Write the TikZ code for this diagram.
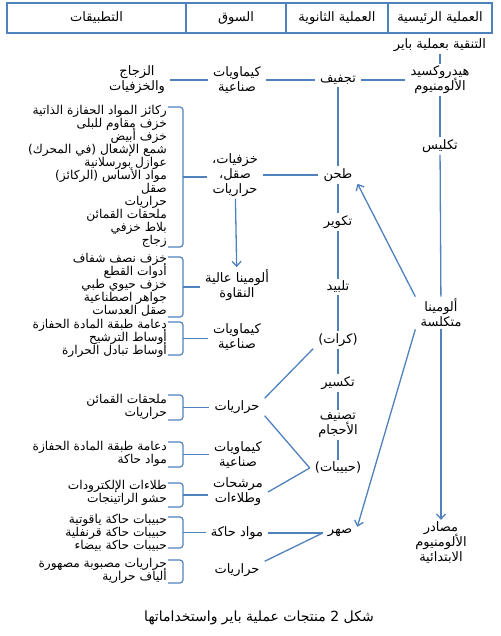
\documentclass[tikz,border=0pt]{standalone}
\usepackage{fontspec}
\usepackage{tikz}
\usetikzlibrary{arrows.meta,calc}
\TeXXeTstate=1
\newfontfamily\arabicfont[Script=Arabic]{DejaVu Sans}
\definecolor{lineblue}{RGB}{79,129,189}
\def\artxt#1{\beginR #1\endR}
\def\tightlines{\lineskiplimit=-20pt\relax}
\def\appbracket(#1)(#2:#3){\draw[brk] (168,#2) -- (183,#2) -- (183,#3) -- (168,#3); \coordinate (#1) at (183,{(#2+#3)/2});}

\begin{document}
\begin{tikzpicture}[x=1pt, y=-1pt,
	conn/.style={draw=lineblue, line width=1.3pt},
	arr/.style={conn, -{Straight Barb[length=5pt,width=9pt]}},
	brk/.style={draw=lineblue, line width=1.2pt, rounded corners=3pt},
	lbl/.style={font={\arabicfont\fontsize{13}{15}\selectfont\tightlines}, align=center, inner xsep=5pt, inner ysep=2pt},
	app/.style={font={\arabicfont\fontsize{12.2}{13}\selectfont\tightlines}, align=right, anchor=east, inner sep=0pt},
	hdr/.style={draw=lineblue, line width=1.2pt, minimum height=30pt, inner sep=0pt, font={\arabicfont\fontsize{13}{15}\selectfont}}]
		%%%%% START %%%%%
		\useasboundingbox (0,0) rectangle (500,636);
		
		\node[hdr, minimum width=179pt] (happ) at (96.5,18) {\artxt{التطبيقات}};
		\node[hdr, minimum width=100pt] (hmarket) at (236,18) {\artxt{السوق}};
		\node[hdr, minimum width=102pt] (hsec) at (337,18) {\artxt{العملية الثانوية}};
		\node[hdr, minimum width=104pt] (hmain) at (440,18) {\artxt{العملية الرئيسية}};
		
		% main process
		\node[lbl] (bayer) at (440,45) {\artxt{التنقية بعملية باير}};
		\node[lbl] (hydrox) at (440,80) {\artxt{هيدروكسيد}\\\artxt{الألومنيوم}};
		\node[lbl] (calcin) at (440,146) {\artxt{تكليس}};
		\node[lbl] (calcined) at (441,313) {\artxt{ألومينا}\\\artxt{متكلسة}};
		\node[lbl] (primary) at (441,543) {\artxt{مصادر}\\\artxt{الألومنيوم}\\\artxt{الابتدائية}};
		
		% secondary process
		\node[lbl] (dry) at (338,80) {\artxt{تجفيف}};
		\node[lbl] (grind) at (338,175) {\artxt{طحن}};
		\node[lbl] (pellet) at (338,222) {\artxt{تكوير}};
		\node[lbl] (sinter) at (338,287) {\artxt{تلبيد}};
		\node[lbl] (balls) at (338,340) {\artxt{(كرات)}};
		\node[lbl] (crush) at (338,383) {\artxt{تكسير}};
		\node[lbl] (sizing) at (338,425) {\artxt{تصنيف}\\\artxt{الأحجام}};
		\node[lbl] (grains) at (338,468) {\artxt{(حبيبات)}};
		\node[lbl] (fuse) at (340,533) {\artxt{صهر}};
		
		% market
		\node[lbl] (mchemA) at (237,80) {\artxt{كيماويات}\\\artxt{صناعية}};
		\node[lbl] (glass) at (137,80) {\artxt{الزجاج}\\\artxt{والخزفيات}};
		\node[lbl] (mceram) at (235,175) {\artxt{خزفيات،}\\\artxt{صقل،}\\\artxt{حراريات}};
		\node[lbl] (mpure) at (237,285) {\artxt{ألومينا عالية}\\\artxt{النقاوة}};
		\node[lbl] (mchemB) at (237,337) {\artxt{كيماويات}\\\artxt{صناعية}};
		\node[lbl] (mrefrA) at (237,407) {\artxt{حراريات}};
		\node[lbl] (mchemC) at (238,455) {\artxt{كيماويات}\\\artxt{صناعية}};
		\node[lbl] (mfilt) at (238,492) {\artxt{مرشحات}\\\artxt{وطلاءات}};
		\node[lbl] (mabras) at (237,533) {\artxt{مواد حاكة}};
		\node[lbl] (mrefrB) at (237,570) {\artxt{حراريات}};
		
		% applications
		\node[app] (aceram) at (167,176) {\artxt{ركائز المواد الحفازة الذاتية}\\\artxt{خزف مقاوم للبلى}\\\artxt{خزف أبيض}\\\artxt{شمع الإشعال (في المحرك)}\\\artxt{عوازل بورسلانية}\\\artxt{مواد الأساس (الركائز)}\\\artxt{صقل}\\\artxt{حراريات}\\\artxt{ملحقات القمائن}\\\artxt{بلاط خزفي}\\\artxt{زجاج}};
		\node[app] (apure) at (167,285) {\artxt{خزف نصف شفاف}\\\artxt{أدوات القطع}\\\artxt{خزف حيوي طبي}\\\artxt{جواهر اصطناعية}\\\artxt{صقل العدسات}};
		\node[app] (achemB) at (167,338) {\artxt{دعامة طبقة المادة الحفازة}\\\artxt{أوساط الترشيح}\\\artxt{أوساط تبادل الحرارة}};
		\node[app] (arefrA) at (167,407) {\artxt{ملحقات القمائن}\\\artxt{حراريات}};
		\node[app] (achemC) at (167,454) {\artxt{دعامة طبقة المادة الحفازة}\\\artxt{مواد حاكة}};
		\node[app] (afilt) at (167,493) {\artxt{طلاءات الإلكترودات}\\\artxt{حشو الراتينجات}};
		\node[app] (aabras) at (167,533) {\artxt{حبيبات حاكة ياقوتية}\\\artxt{حبيبات حاكة قرنفلية}\\\artxt{حبيبات حاكة بيضاء}};
		\node[app] (arefrB) at (167,571) {\artxt{حراريات مصبوبة مصهورة}\\\artxt{ألياف حرارية}};
		
		\appbracket(bceram)(107:247)
		\appbracket(bpure)(257:317)
		\appbracket(bchemB)(322:355)
		\appbracket(brefrA)(395:420)
		\appbracket(bchemC)(442:467)
		\appbracket(bfilt)(483:507)
		\appbracket(babras)(517:548)
		\appbracket(brefrB)(560:583)
		
		\draw[conn] (bceram) -- (bceram -| mceram.west);
		\draw[conn] (bpure) -- (bpure -| mpure.west);
		\draw[conn] (bchemB) -- (bchemB -| mchemB.west);
		\draw[conn] (brefrA) -- (brefrA -| mrefrA.west);
		\draw[conn] (bchemC) -- (bchemC -| mchemC.west);
		\draw[conn] (bfilt) -- (bfilt -| mfilt.west);
		\draw[conn] (babras) -- (babras -| mabras.west);
		
		% connectors
		\draw[conn] (bayer) -- (hydrox);
		\draw[conn] (hydrox) -- (dry);
		\draw[conn] (dry) -- (mchemA);
		\draw[conn] (mchemA) -- (glass);
		\draw[conn] (hydrox) -- (calcin);
		\draw[conn] (calcin) -- (calcined);
		\foreach \a/\b in {dry/grind, grind/pellet, pellet/sinter, sinter/balls, balls/crush, crush/sizing, sizing/grains}
			\draw[conn] (\a) -- (\b);
		\draw[conn] (grind) -- (mceram);
		\draw[arr] (mceram) -- (mpure);
		\draw[arr] (calcined.north west) -- (grind.south east);
		\draw[arr] (calcined.south west) -- (fuse.north east);
		\draw[arr] (calcined) -- (primary);
		\draw[conn] (balls.south west) -- (mrefrA.north east);
		\draw[conn] (mrefrA.south east) -- (grains.west);
		\draw[conn] (grains.west) -- (mfilt.east);
		\draw[conn] (fuse.west) -- (mabras.east);
		\draw[conn] (fuse.west) -- (mrefrB.north east);
		
		\node[lbl, font={\arabicfont\fontsize{14}{16}\selectfont}] (caption) at (259,618) {\artxt{شكل 2 منتجات عملية باير واستخداماتها}};
		%%%%% END %%%%%
\end{tikzpicture}
\end{document}
